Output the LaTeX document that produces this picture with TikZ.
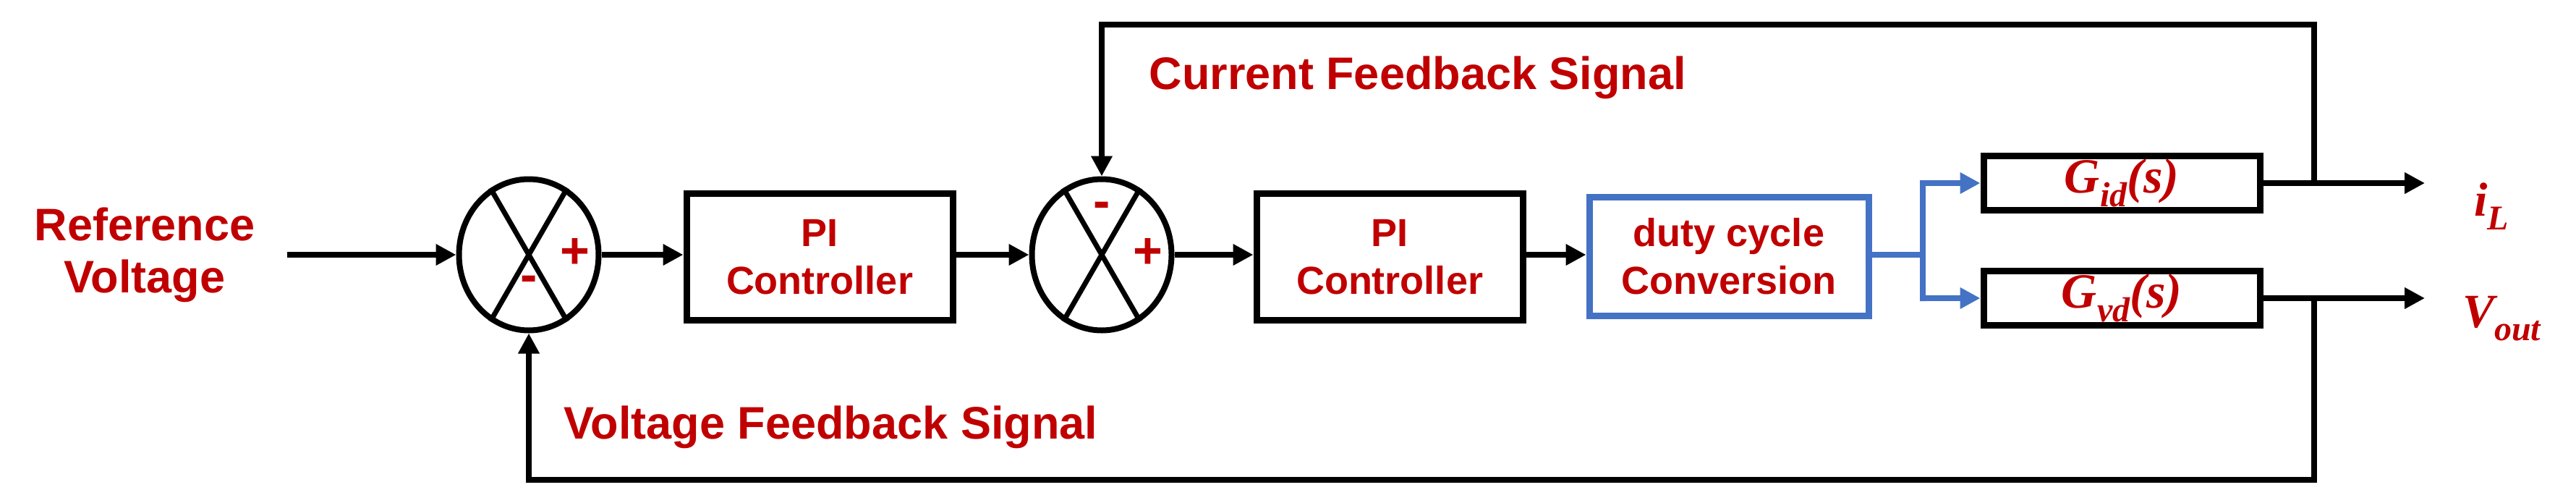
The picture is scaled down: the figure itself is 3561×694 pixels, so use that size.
\documentclass[tikz,border=0pt]{standalone}
\usepackage{fontspec}
\setmainfont{Liberation Sans}
\newfontfamily\mserif{Liberation Serif}
\usetikzlibrary{arrows.meta,shapes.geometric}
\definecolor{myred}{RGB}{192,0,0}
\definecolor{myblue}{RGB}{68,114,196}
\newcommand{\msub}[1]{\raisebox{-0.28em}{\fontsize{48}{48}\selectfont #1}}
\begin{document}
\begin{tikzpicture}[x=1pt,y=-1pt,
  lbl/.style={text=myred,font=\fontsize{63}{72}\selectfont\bfseries,align=center},
  small/.style={text=myred,font=\fontsize{54}{66}\selectfont\bfseries,align=center},
  blk/.style={draw,line width=9pt,minimum width=368pt,minimum height=175pt,small},
  gblk/.style={draw,line width=9pt,minimum width=382pt,minimum height=75pt,inner sep=0pt,text=myred,font=\fontsize{68}{68}\selectfont\mserif\bfseries\itshape},
  sum/.style={draw,ellipse,line width=8pt,minimum width=193pt,minimum height=209pt},
  sgn/.style={text=myred,font=\fontsize{70}{70}\selectfont\bfseries},
  arr/.style={line width=8pt,-{Triangle[length=28pt,width=28pt]}}]
\useasboundingbox (0,0) rectangle (3561,694);
\node[lbl] (ref) at (200,352) {Reference\\Voltage};
\node[sum] (s1) at (731,352) {};
\draw[line width=7pt] (s1.120)--(s1.300) (s1.60)--(s1.240);
\node[sgn] (p1) at (795,350) {+};
\node[sgn] (m1) at (731,392) {-};
\node[blk] (pi1) at (1133,355) {PI\\Controller};
\node[sum] (s2) at (1523,352) {};
\draw[line width=7pt] (s2.120)--(s2.300) (s2.60)--(s2.240);
\node[sgn] (p2) at (1587,350) {+};
\node[sgn] (m2) at (1523,290) {-};
\node[blk] (pi2) at (1921,355) {PI\\Controller};
\node[blk,draw=myblue,minimum width=386pt,minimum height=164pt] (dc) at (2390,354) {duty cycle\\Conversion};
\node[gblk] (gid) at (2933,253) {G\msub{id}(s)};
\node[gblk] (gvd) at (2933,412) {G\msub{vd}(s)};
\node[text=myred,font=\fontsize{66}{66}\selectfont\mserif\bfseries\itshape] (il) at (3444,285) {i\msub{L}};
\node[text=myred,font=\fontsize{66}{66}\selectfont\mserif\bfseries\itshape] (vo) at (3458,440) {V\msub{out}};
\node[lbl,anchor=west] (cfs) at (1585,107) {Current Feedback Signal};
\node[lbl,anchor=west] (vfs) at (776,590) {Voltage Feedback Signal};
\coordinate (o1) at (3352,253);
\coordinate (o2) at (3352,412);
\coordinate (in) at (397,352);
\draw[arr] (in) -- (s1.west);
\draw[arr] (s1.east)--(pi1.west|-s1);
\draw[arr] (pi1.east|-s2)--(s2.west);
\draw[arr] (s2.east)--(pi2.west|-s2);
\draw[arr] (pi2.east|-s2)--(dc.west|-s2);
\coordinate (sp) at (2658,352);
\draw[line width=8pt,myblue] (dc.east|-sp)--(sp);
\draw[line width=8pt,myblue,-{Triangle[length=28pt,width=28pt]}] (sp)--([yshift=4pt]sp|-gid)--(sp|-gid)--(gid.west);
\draw[line width=8pt,myblue,-{Triangle[length=28pt,width=28pt]}] (sp)--([yshift=-4pt]sp|-gvd)--(sp|-gvd)--(gvd.west);
\draw[arr] (gid.east)--(o1);
\draw[arr] (gvd.east)--(o2);
\draw[arr] (3199,253)--(3199,34)-|(s2.north);
\draw[arr] (3199,412)--(3199,663)-|(s1.south);
\end{tikzpicture}
\end{document}
